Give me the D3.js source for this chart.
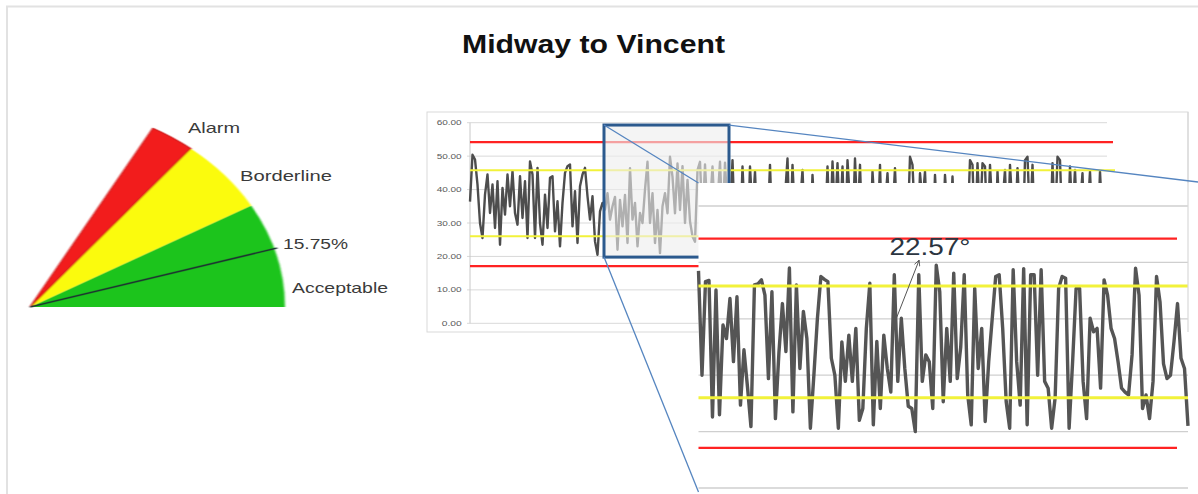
<!DOCTYPE html>
<html>
<head>
<meta charset="utf-8">
<script src="https://cdn.jsdelivr.net/npm/d3@7"></script>
<style>
  html, body { margin: 0; padding: 0; background: #ffffff; }
  svg { display: block; font-family: "Liberation Sans", Arial, sans-serif; }
</style>
</head>
<body>
<svg id="chart" width="1198" height="494"></svg>
<script>
// ---------- data ----------
const titleText = "Midway to Vincent";

// gauge zones (percent of deviation) and current reading
const gaugeZoneNames = ["Acceptable", "Borderline", "Alarm"];
const gaugeZoneLimits = [0, 28.3, 48.3, 58];
const gaugeReading = 15.75;
const gaugeReadingLabel = "15.75%";

// value axis of the trend charts
const yTicks = [0, 10, 20, 30, 40, 50, 60];
const yTickLabels = ["0.00", "10.00", "20.00", "30.00", "40.00", "50.00", "60.00"];
const detailGridValues = [10, 20, 30, 40, 50, 60];

// control limits
const alarmLimits = [17.1, 54.2];
const borderlineLimits = [26.0, 45.8];

// full trend (overview)
const overviewValues = [
  36.4, 50.4, 49, 41.5, 30, 25.5, 38.5, 44.5, 33, 41.5,
  28.5, 42.5, 23.5, 40.5, 32.5, 44.5, 35, 45.5, 33, 29.5,
  44, 31.5, 42.5, 25.5, 48.4, 44.5, 25.5, 46.5, 30, 23.5,
  38.5, 28.5, 43.5, 44, 27.5, 36.5, 23, 36, 45, 47,
  47.5, 29, 39.5, 24, 41, 44.5, 46.5, 38, 31, 38,
  24.5, 20.5, 33.5, 36,
  34, 38.9, 31, 35, 37.8, 22, 36.9, 29, 38.4, 24,
  46.4, 31, 36, 23, 33, 30, 40, 48.3, 30, 38.9,
  24, 33.9, 21, 35, 38.9, 32.9, 49.8, 43.8, 32.9, 47.8,
  33.9, 47, 30, 42.9, 30.5, 26, 24.4, 45.8, 48.3, 30,
  47.5, 33, 35, 46.9, 31, 36, 48.3, 30, 48, 34,
  31, 48.8, 27, 35, 24, 46.9, 30, 22, 46.9, 33,
  45.4, 26, 37, 23, 32, 28, 47.4, 25, 36, 21,
  34, 29, 38, 49.3, 24, 47.4, 31, 22, 35, 45.9,
  27, 33, 23, 44.4, 30, 36, 21, 34, 28, 46.9,
  25, 48.4, 32, 47.9, 29, 46.9, 22, 48.8, 36, 26,
  49.3, 31, 47.4, 24, 37, 30, 23, 45.4, 33, 27,
  47.4, 21, 35, 44.9, 28, 32, 46.4, 25, 38, 22,
  34, 27, 49.8, 47.4, 30, 23, 44.9, 36, 45.4, 26,
  33, 21, 44.4, 29, 37, 24, 44.4, 32, 27, 43.9,
  25, 35, 30, 22, 38, 28, 48.8, 47.4, 24, 47.9,
  31, 47.9, 46.9, 26, 47.4, 33, 21, 45.4, 29, 36,
  45.9, 23, 47.4, 34, 27, 46.4, 31, 22, 48.8, 49.8,
  30, 47.4, 25, 37, 21, 33, 28, 36, 24, 47.9,
  29, 49.8, 48.8, 26, 34, 23, 46.9, 31, 45.9, 27,
  35, 44.9, 22, 32, 45.4, 28, 37, 24, 45.4, 30, 26
];

// highlighted window of the overview (sample index range, value range)
const windowIndex = [53.6, 103.6];
const windowValue = [19.8, 59.3];

// high-resolution trend inside the highlighted window
const detailValues = [
  48.5, 30, 46.6, 46.8, 22.6, 45.1, 23, 38.9, 36.5, 43.6,
  32.4, 43.9, 24.7, 34.5, 28, 20.9, 46, 46.2, 46.9, 44.2,
  29.4, 44.8, 22.3, 34, 42.7, 34.2, 49, 23.5, 46, 31.2,
  41.3, 36.5, 20.6, 30, 40, 47.5, 47, 46.6, 33, 30,
  20.6, 35.9, 28.9, 37.1, 28.9, 38.3, 22, 24.1, 38.3, 46.3,
  21.2, 36, 24.1, 37.1, 31.2, 27, 47.8, 28.9, 40.1, 31.2,
  24.5, 24.1, 20, 47.8, 28.9, 33.6, 32.4, 24.1, 49.5, 44.8,
  25.3, 38.3, 28.9, 48.1, 29.4, 35, 47.8, 26.5, 21.2, 45.4,
  31.2, 38.3, 21.8, 32.4, 40, 47.5, 47.8, 38.3, 25.3, 20.6,
  48.7, 32.4, 24.7, 48.9, 21.2, 47.8, 47.8, 30, 48.7, 28.9,
  27.7, 20.6, 26, 45.4, 47.5, 47.2, 20.6, 32.4, 45.4, 45.4,
  28.9, 22.3, 40.1, 37.7, 38.3, 27.7, 46.9, 44.2, 38.3, 36.5,
  32.4, 27.7, 27, 26.5, 33.6, 48.95, 44.2, 24.1, 26.5, 22.3,
  28.9, 47.5, 43, 32, 29.4, 30, 36, 42.7, 33, 31.2, 21
];

// slope annotation in the detail chart (sample index, value)
const slopeLabel = "22.57°";
const slopeLabelAt = [54.6, 51.3];
const slopeArrowFrom = [56.6, 40.1];
const slopeArrowTo = [63.1, 50.4];

// ---------- layout & style ----------
const layout = {
  gauge: { cx: 30, cy: 307, r: 255, squash: 0.8, maxDeg: 61.2, needleR: 258 },
  gaugeLabels: [
    { text: "Acceptable", x: 292, y: 293, w: 96 },
    { text: "Borderline", x: 240, y: 181, w: 92 },
    { text: "Alarm", x: 188, y: 133, w: 52 }
  ],
  readingLabel: { x: 283, y: 249, w: 65 },
  title: { x: 462, y: 53, w: 263 },
  frame: { x0: 427, y0: 112, x1: 1188, y1: 332 },
  overview: { x0: 470, x1: 1105, y0: 323.3, y1: 122.7, gridEnd: 1107, redEnd: 1113, yellowEnd: 1115 },
  detail: { x0: 698.5, x1: 1188, yTop: 206, yBottom: 488, boxTop: 183, boxBottom: 492, boxRight: 1198, redEnd: 1177 }
};
const colors = {
  zones: ["#1ec41e", "#fbfb10", "#f21c1c"],
  grid: "#d9d9d9",
  axisText: "#595959",
  red: "#ff2222",
  yellow: "#f2f23a",
  trace: "#4d4d4d",
  link: "#5585c0",
  window: "#2c5a8e"
};

// ---------- drawing ----------
const svg = d3.select("#chart");
const defs = svg.append("defs");
defs.append("filter").attr("id", "soft")
  .attr("x", "-5%").attr("y", "-5%").attr("width", "110%").attr("height", "110%")
  .append("feGaussianBlur").attr("stdDeviation", 0.8);

// page border
svg.append("path")
  .attr("d", "M7,494 V6.5 H1198")
  .attr("fill", "none").attr("stroke", "#e2e2e2").attr("stroke-width", 2);

// title
svg.append("text")
  .attr("x", layout.title.x).attr("y", layout.title.y)
  .attr("font-size", 25).attr("font-weight", "bold").attr("fill", "#111")
  .attr("textLength", layout.title.w).attr("lengthAdjust", "spacingAndGlyphs")
  .text(titleText);

// ---- gauge ----
const G = layout.gauge;
const angleDeg = d3.scaleLinear().domain([0, gaugeZoneLimits[gaugeZoneLimits.length - 1]]).range([0, G.maxDeg]);
const toArcAngle = v => (90 - angleDeg(v)) * Math.PI / 180;
const arc = d3.arc().innerRadius(0).outerRadius(G.r);
const gauge = svg.append("g")
  .attr("transform", `translate(${G.cx},${G.cy}) scale(1,${G.squash})`)
  .attr("filter", "url(#soft)");
gaugeZoneNames.forEach((name, i) => {
  gauge.append("path")
    .attr("d", arc({ startAngle: toArcAngle(gaugeZoneLimits[i + 1]), endAngle: toArcAngle(gaugeZoneLimits[i]) }))
    .attr("fill", colors.zones[i])
    .attr("stroke", i === 2 ? "#cc1010" : "none")
    .attr("stroke-width", 1.2)
    .attr("vector-effect", "non-scaling-stroke");
});
const needleA = angleDeg(gaugeReading) * Math.PI / 180;
gauge.append("line")
  .attr("x1", 0).attr("y1", 0)
  .attr("x2", G.needleR * Math.cos(needleA)).attr("y2", -G.needleR * Math.sin(needleA))
  .attr("stroke", "#1c3030").attr("stroke-width", 1.6)
  .attr("vector-effect", "non-scaling-stroke");

layout.gaugeLabels.forEach(l => {
  svg.append("text").attr("x", l.x).attr("y", l.y)
    .attr("font-size", 15).attr("fill", "#3a3a3a")
    .attr("textLength", l.w).attr("lengthAdjust", "spacingAndGlyphs")
    .text(l.text);
});
svg.append("text").attr("x", layout.readingLabel.x).attr("y", layout.readingLabel.y)
  .attr("font-size", 15).attr("fill", "#3a3a3a")
  .attr("textLength", layout.readingLabel.w).attr("lengthAdjust", "spacingAndGlyphs")
  .text(gaugeReadingLabel);

// ---- overview chart ----
const F = layout.frame, O = layout.overview;
svg.append("rect")
  .attr("x", F.x0).attr("y", F.y0).attr("width", F.x1 - F.x0).attr("height", F.y1 - F.y0)
  .attr("fill", "#fff").attr("stroke", colors.grid).attr("stroke-width", 1);

const xO = d3.scaleLinear().domain([0, overviewValues.length - 1]).range([O.x0, O.x1]);
const yO = d3.scaleLinear().domain([0, 60]).range([O.y0, O.y1]);

const ov = svg.append("g");
ov.selectAll("line.grid").data(yTicks).join("line")
  .attr("class", "grid")
  .attr("x1", O.x0 - 3).attr("x2", O.gridEnd)
  .attr("y1", d => yO(d)).attr("y2", d => yO(d))
  .attr("stroke", colors.grid).attr("stroke-width", 1);
ov.append("line")
  .attr("x1", O.x0).attr("x2", O.x0).attr("y1", yO(60)).attr("y2", yO(0))
  .attr("stroke", "#c8c8c8").attr("stroke-width", 1);
ov.selectAll("text.tick").data(yTicks).join("text")
  .attr("class", "tick")
  .attr("x", O.x0 - 8.3).attr("y", d => yO(d) + 2.6)
  .attr("text-anchor", "end").attr("font-size", 7.3).attr("fill", colors.axisText)
  .attr("textLength", (d, i) => yTickLabels[i].length * 5).attr("lengthAdjust", "spacingAndGlyphs")
  .text((d, i) => yTickLabels[i]);

ov.append("path")
  .datum(overviewValues)
  .attr("d", d3.line().x((d, i) => xO(i)).y(d => yO(d)))
  .attr("fill", "none").attr("stroke", colors.trace).attr("stroke-width", 2.4)
  .attr("stroke-linejoin", "round");

ov.selectAll("line.red").data(alarmLimits).join("line")
  .attr("class", "red")
  .attr("x1", O.x0).attr("x2", O.redEnd)
  .attr("y1", d => yO(d)).attr("y2", d => yO(d))
  .attr("stroke", colors.red).attr("stroke-width", 2.3);
ov.selectAll("line.yel").data(borderlineLimits).join("line")
  .attr("class", "yel")
  .attr("x1", O.x0).attr("x2", O.yellowEnd)
  .attr("y1", d => yO(d)).attr("y2", d => yO(d))
  .attr("stroke", colors.yellow).attr("stroke-width", 2);

// highlighted window
const wx0 = xO(windowIndex[0]), wx1 = xO(windowIndex[1]);
const wy0 = yO(windowValue[1]), wy1 = yO(windowValue[0]);
ov.append("rect")
  .attr("x", wx0).attr("y", wy0).attr("width", wx1 - wx0).attr("height", wy1 - wy0)
  .attr("fill", "#eeeeee").attr("fill-opacity", 0.62);
ov.append("rect")
  .attr("x", wx0).attr("y", wy0).attr("width", wx1 - wx0).attr("height", wy1 - wy0)
  .attr("fill", "none").attr("stroke", colors.window).attr("stroke-width", 3);

// ---- detail chart ----
const D = layout.detail;
const xD = d3.scaleLinear().domain([0, detailValues.length - 1]).range([D.x0, D.x1]);
const yD = d3.scaleLinear().domain([10, 60]).range([D.yBottom, D.yTop]);
const det = svg.append("g");
det.append("rect")
  .attr("x", D.x0).attr("y", D.boxTop).attr("width", D.boxRight - D.x0).attr("height", D.boxBottom - D.boxTop + 4)
  .attr("fill", "#fff");
det.selectAll("line.grid").data(detailGridValues).join("line")
  .attr("class", "grid")
  .attr("x1", D.x0).attr("x2", D.x1)
  .attr("y1", d => yD(d)).attr("y2", d => yD(d))
  .attr("stroke", "#cfcfcf").attr("stroke-width", 1.3);
det.append("path")
  .datum(detailValues)
  .attr("d", d3.line().x((d, i) => xD(i)).y(d => yD(d)))
  .attr("fill", "none").attr("stroke", "#555555").attr("stroke-width", 3.4)
  .attr("stroke-linejoin", "round");
det.selectAll("line.red").data(alarmLimits).join("line")
  .attr("class", "red")
  .attr("x1", D.x0).attr("x2", D.redEnd)
  .attr("y1", d => yD(d)).attr("y2", d => yD(d))
  .attr("stroke", colors.red).attr("stroke-width", 2.3);
det.selectAll("line.yel").data(borderlineLimits).join("line")
  .attr("class", "yel")
  .attr("x1", D.x0).attr("x2", D.x1)
  .attr("y1", d => yD(d)).attr("y2", d => yD(d))
  .attr("stroke", colors.yellow).attr("stroke-width", 3);

// slope annotation
defs.append("marker").attr("id", "head")
  .attr("viewBox", "0 0 10 10").attr("refX", 9).attr("refY", 5)
  .attr("markerWidth", 7).attr("markerHeight", 7).attr("orient", "auto")
  .append("path").attr("d", "M1,1 L9,5 L1,9")
  .attr("fill", "none").attr("stroke", "#555").attr("stroke-width", 1.2);
det.append("line")
  .attr("x1", xD(slopeArrowFrom[0])).attr("y1", yD(slopeArrowFrom[1]))
  .attr("x2", xD(slopeArrowTo[0])).attr("y2", yD(slopeArrowTo[1]))
  .attr("stroke", "#555").attr("stroke-width", 1)
  .attr("marker-end", "url(#head)");
det.append("text")
  .attr("x", xD(slopeLabelAt[0])).attr("y", yD(slopeLabelAt[1]))
  .attr("font-size", 23).attr("fill", "#2b3540")
  .attr("textLength", 81).attr("lengthAdjust", "spacingAndGlyphs")
  .text(slopeLabel);

// right edge of the overview frame stays visible
svg.append("line")
  .attr("x1", F.x1).attr("x2", F.x1).attr("y1", F.y0).attr("y2", F.y1)
  .attr("stroke", colors.grid).attr("stroke-width", 1.2);

// zoom connectors
const links = [
  [[wx0, wy0], [D.x0, D.boxTop]],
  [[wx1, wy0], [D.boxRight, D.boxTop - 1]],
  [[wx0, wy1], [D.x0, D.boxBottom]]
];
svg.selectAll("line.link").data(links).join("line")
  .attr("class", "link")
  .attr("x1", d => d[0][0]).attr("y1", d => d[0][1])
  .attr("x2", d => d[1][0]).attr("y2", d => d[1][1])
  .attr("stroke", colors.link).attr("stroke-width", 1.3);
</script>
</body>
</html>
